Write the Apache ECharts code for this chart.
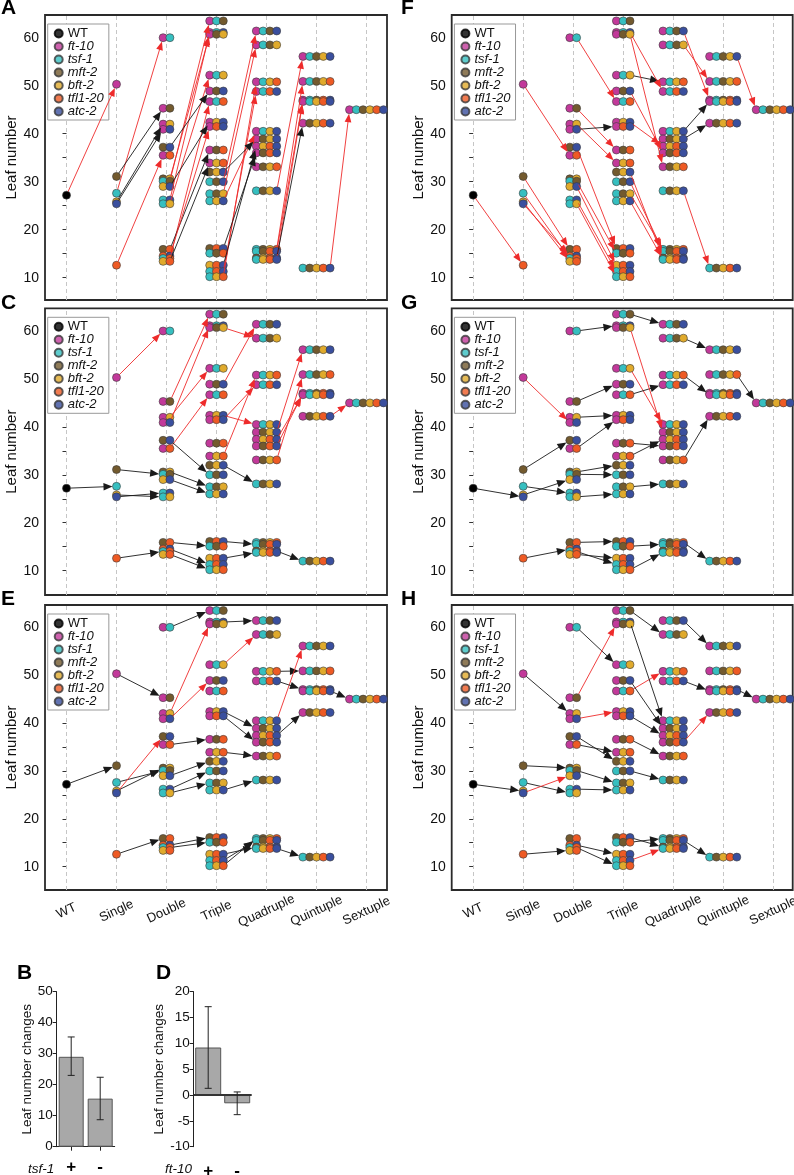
<!DOCTYPE html>
<html><head><meta charset="utf-8">
<script src="https://cdn.jsdelivr.net/npm/echarts@6/dist/echarts.min.js"></script>
<style>html,body{margin:0;padding:0;background:#fff}#c{width:794px;height:1175px}</style>
</head><body><div id="c"></div>
<script>
// ---------------- DATA ----------------
const categories = ['WT', 'Single', 'Double', 'Triple', 'Quadruple', 'Quintuple', 'Sextuple'];
const mutantNames = ['ft-10', 'tsf-1', 'mft-2', 'bft-2', 'tfl1-20', 'atc-2'];
const mutantCodes = ['F', 'T', 'M', 'B', 'L', 'A'];
// genotype codes (letters of mutant alleles present) and their leaf numbers
const genotypeCodes = [
  '',
  'F', 'T', 'M', 'B', 'L', 'A',
  'FT', 'FM', 'FB', 'FL', 'FA', 'TM', 'TB', 'TL', 'TA', 'MB', 'ML', 'MA', 'BL', 'BA', 'LA',
  'FTM', 'FTB', 'FTL', 'FTA', 'FMB', 'FML', 'FMA', 'FBL', 'FBA', 'FLA', 'TMB', 'TML', 'TMA', 'TBL', 'TBA', 'TLA', 'MBA', 'MLA', 'BLA',
  'FTMB', 'FTMA', 'FTBL', 'FTBA', 'FTLA', 'FMBL', 'FMBA', 'FMLA', 'FBLA', 'TMBL', 'TMBA', 'TMLA', 'TBLA', 'MBLA',
  'FTMBL', 'FTMBA', 'FTMLA', 'FTBLA', 'FMBLA', 'TMBLA',
  'FTMBLA'
];
const leafNumbers = [
  27.2,
  50.3, 27.6, 31.1, 25.8, 12.6, 25.4,
  60.0, 45.3, 42.0, 35.5, 40.9, 30.1, 25.4, 14.0, 26.2, 30.6, 15.9, 37.2, 13.4, 29.0, 14.5,
  63.5, 52.2, 46.7, 61.1, 60.7, 36.6, 48.9, 33.9, 42.4, 41.5, 27.5, 15.1, 30.0, 10.2, 26.0, 11.3, 32.0, 16.1, 12.6,
  58.5, 61.4, 50.8, 40.5, 48.8, 33.1, 38.9, 36.0, 37.4, 15.9, 28.1, 15.5, 13.8, 14.1,
  50.9, 56.1, 47.0, 46.7, 42.2, 12.0,
  45.0
];
// panels: which mutation each arrow adds, and which source genotypes get red arrows
const panelNames = ['A', 'C', 'E', 'F', 'G', 'H'];
const panelAddedMutant = ['F', 'T', 'M', 'L', 'A', 'B'];
const redSourcesA = ['', 'T', 'L', 'TM', 'TB', 'TL', 'TA', 'MB', 'LA', 'TMB', 'TMA', 'TBL', 'TBA', 'TLA', 'TMBL', 'TMBA', 'TMLA', 'TBLA', 'TMBLA'];
const redSourcesC = ['F', 'FM', 'FB', 'FL', 'FA', 'FMB', 'FMA', 'FBL', 'FBA', 'FLA', 'FMBL', 'FMBA', 'FMLA', 'FBLA', 'FMBLA'];
const redSourcesE = ['A', 'FB', 'FA', 'FTB', 'FTBA'];
const redSourcesF = ['', 'F', 'T', 'M', 'B', 'A', 'FT', 'FM', 'FB', 'TM', 'TB', 'TA', 'MA', 'BA', 'FTA', 'FMB', 'FMA', 'FBA', 'TMB', 'TMA', 'TBA', 'MBA', 'FTMB', 'FTMA', 'TMBA', 'FTMBA'];
const redSourcesG = ['F', 'FTB', 'FMB'];
const redSourcesH = ['A', 'FM', 'FA', 'FTL', 'TLA', 'FMLA'];
const panelRedSources = [redSourcesA, redSourcesC, redSourcesE, redSourcesF, redSourcesG, redSourcesH];
// bar charts B and D
const barCategories = ['+', '-'];
const tsfMeans = [29.0, 15.5];
const tsfErrLow = [23.0, 8.7];
const tsfErrHigh = [35.4, 22.4];
const ftMeans = [9.2, -1.6];
const ftErrLow = [1.3, -3.8];
const ftErrHigh = [17.1, 0.6];

// ---------------- STYLE / LAYOUT ----------------
const FONT = '"Liberation Sans", Arial, Helvetica, sans-serif';
const wtColor = '#000000';
const mutantColors = ['#c2399a', '#36bfc0', '#735a2e', '#e0aa2c', '#ee5a24', '#3a4f9e'];
const colLeft = [45, 451.7], colWidth = [342, 341];
const rowTop = [15, 308.3, 605], rowHeight = [285, 286.7, 285];
const yMinRow = [5.35, 4.93, 5.13], yMaxRow = [64.73, 64.73, 64.66];
const pxPerUnit = 50, xMin = -0.43, dotStep = 0.136;
const panelCol = [0, 0, 0, 1, 1, 1], panelRow = [0, 1, 2, 0, 1, 2];
const ORDER = 'FTMBLA';

const leafOf = {};
genotypeCodes.forEach((c, i) => leafOf[c] = leafNumbers[i]);
function canonical(s) { return ORDER.split('').filter(ch => s.includes(ch)).join(''); }
function dotX(code, i) { const n = code.length; return n === 0 ? 0 : n + (i - (n - 1) / 2) * dotStep; }

// dots, drawn from highest row to lowest so lower rows sit on top
const dotData = [];
genotypeCodes.map((c, i) => i).sort((a, b) => leafNumbers[b] - leafNumbers[a]).forEach(gi => {
  const code = genotypeCodes[gi], y = leafNumbers[gi];
  if (code.length === 0) { dotData.push({ value: [0, y], itemStyle: { color: wtColor } }); return; }
  for (let i = 0; i < code.length; i++) {
    dotData.push({ value: [dotX(code, i), y], itemStyle: { color: mutantColors[mutantCodes.indexOf(code[i])] } });
  }
});

function arrowsFor(p) {
  const add = panelAddedMutant[p], reds = panelRedSources[p], out = [];
  genotypeCodes.forEach(code => {
    if (code.includes(add)) return;
    const tgt = canonical(code + add);
    if (!(tgt in leafOf)) return;
    out.push([dotX(code, Math.max(code.length - 1, 0)), leafOf[code], dotX(tgt, 0), leafOf[tgt], reds.includes(code) ? 1 : 0]);
  });
  return out;
}

function renderArrow(params, api) {
  const p1 = api.coord([api.value(0), api.value(1)]);
  const p2 = api.coord([api.value(2), api.value(3)]);
  const red = api.value(4) === 1;
  const color = red ? '#ee2b2b' : '#1a1a1a';
  const dx = p2[0] - p1[0], dy = p2[1] - p1[1];
  const len = Math.sqrt(dx * dx + dy * dy) || 1;
  const ux = dx / len, uy = dy / len;
  const r = 4;
  const s = [p1[0] + ux * r, p1[1] + uy * r];
  const tip = [p2[0] - ux * r, p2[1] - uy * r];
  const hl = red ? 8.5 : 9, hw = red ? 3.4 : 3.8;
  const base = [tip[0] - ux * hl, tip[1] - uy * hl];
  return {
    type: 'group', children: [
      { type: 'line', shape: { x1: s[0], y1: s[1], x2: base[0] + ux * 1, y2: base[1] + uy * 1 }, style: { stroke: color, lineWidth: 0.9 } },
      { type: 'polygon', shape: { points: [tip, [base[0] - uy * hw, base[1] + ux * hw], [base[0] + uy * hw, base[1] - ux * hw]] }, style: { fill: color } }
    ]
  };
}

function renderErr(params, api) {
  const lo = api.coord([api.value(0), api.value(1)]);
  const hi = api.coord([api.value(0), api.value(2)]);
  const w = 3.5, st = { stroke: '#222', lineWidth: 1 };
  return {
    type: 'group', children: [
      { type: 'line', shape: { x1: lo[0], y1: lo[1], x2: hi[0], y2: hi[1] }, style: st },
      { type: 'line', shape: { x1: lo[0] - w, y1: lo[1], x2: lo[0] + w, y2: lo[1] }, style: st },
      { type: 'line', shape: { x1: hi[0] - w, y1: hi[1], x2: hi[0] + w, y2: hi[1] }, style: st }
    ]
  };
}

// ---------------- OPTION ----------------
const grids = [], xAxes = [], yAxes = [], series = [], legends = [], graphics = [];
const legendNames = ['WT'].concat(mutantNames);

for (let p = 0; p < 6; p++) {
  const c = panelCol[p], r = panelRow[p];
  grids.push({ left: colLeft[c], top: rowTop[r], width: colWidth[c], height: rowHeight[r], show: true, borderColor: '#2a2a2a', borderWidth: 1.8, backgroundColor: 'transparent', containLabel: false, outerBoundsMode: 'none' });
  const bottom = r === 2;
  xAxes.push({
    type: 'value', gridIndex: p, min: xMin, max: xMin + colWidth[c] / pxPerUnit,
    axisLine: { show: false }, axisTick: { show: false }, splitLine: { show: false },
    axisLabel: bottom ? { show: true, customValues: [0, 1, 2, 3, 4, 5, 6], formatter: v => categories[Math.round(v)], rotate: 25, align: 'center', verticalAlign: 'middle', fontSize: 13, fontFamily: FONT, color: '#111', margin: 21, hideOverlap: false } : { show: false }
  });
  yAxes.push({
    type: 'value', gridIndex: p, min: yMinRow[r], max: yMaxRow[r],
    axisLine: { show: false }, splitLine: { show: false },
    axisTick: { show: true, customValues: [10, 15, 20, 25, 30, 35, 40, 45, 50, 55, 60], length: 4, lineStyle: { color: '#333', width: 1 } },
    axisLabel: { customValues: [10, 20, 30, 40, 50, 60], fontSize: 14, fontFamily: FONT, color: '#111', margin: 6, hideOverlap: false },
    name: 'Leaf number', nameLocation: 'middle', nameGap: 24, nameTextStyle: { fontSize: 15, fontFamily: FONT, color: '#111' }
  });
  legends.push({
    left: colLeft[c] + 2.7, top: rowTop[r] + 9, orient: 'vertical', data: legendNames, selectedMode: false,
    icon: 'circle', itemWidth: 8, itemHeight: 8, itemGap: 0, padding: [3, 5, 2, 6],
    borderColor: '#999', borderWidth: 1, backgroundColor: '#fff',
    formatter: n => n === 'WT' ? '{n|' + n + '}' : '{i|' + n + '}',
    textStyle: { fontSize: 13, fontFamily: FONT, color: '#111', lineHeight: 12.9,
      rich: { n: { fontSize: 13, fontFamily: FONT, lineHeight: 12.9, color: '#111' }, i: { fontSize: 13, fontFamily: FONT, fontStyle: 'italic', lineHeight: 12.9, color: '#111' } } }
  });
  series.push({
    type: 'scatter', name: '_grid' + p, xAxisIndex: p, yAxisIndex: p, data: [], silent: true, z: 1,
    markLine: { silent: true, z: 1, symbol: ['none', 'none'], label: { show: false }, animation: false,
      lineStyle: { color: '#c6c6c6', type: [4, 3], width: 1 }, emphasis: { disabled: true },
      data: categories.map((cat, i) => ({ xAxis: i })) }
  });
  series.push({
    type: 'scatter', name: '_dots' + p, xAxisIndex: p, yAxisIndex: p, data: dotData, z: 3, silent: true,
    symbolSize: 8, itemStyle: { borderColor: '#3a3a3a', borderWidth: 0.6, opacity: 1 }, emphasis: { disabled: true }, animation: false
  });
  series.push({
    type: 'custom', name: '_arrows' + p, xAxisIndex: p, yAxisIndex: p, data: arrowsFor(p), z: 4, silent: true,
    encode: { x: [0, 2], y: [1, 3] }, renderItem: renderArrow, animation: false
  });
  graphics.push({ type: 'text', left: c === 0 ? 1 : 401, top: [ -2, 293, 589 ][r],
    style: { text: panelNames[p], font: 'bold 21px ' + FONT, fill: '#000' } });
}

// legend carrier series
legendNames.forEach((n, i) => {
  series.push({ type: 'scatter', name: n, xAxisIndex: 0, yAxisIndex: 0, data: [], itemStyle: { color: i === 0 ? wtColor : mutantColors[i - 1], borderColor: i === 0 ? '#000' : '#3a3a3a', borderWidth: 0.6 } });
});

// bar chart B (grid 6) and D (grid 7)
grids.push({ left: 56.7, top: 991.7, width: 58, height: 155, outerBoundsMode: 'none' });
grids.push({ left: 193.7, top: 991.7, width: 58, height: 155, outerBoundsMode: 'none' });
xAxes.push({ type: 'category', gridIndex: 6, data: barCategories, axisLine: { lineStyle: { color: '#222', width: 1 } },
  axisTick: { show: true, alignWithLabel: true, length: 4, lineStyle: { color: '#222' } },
  axisLabel: { fontSize: 17, fontFamily: FONT, color: '#000', margin: 12, fontWeight: 'bold' } });
xAxes.push({ type: 'category', gridIndex: 7, data: barCategories, axisLine: { show: false, onZero: false }, axisTick: { show: false },
  axisLabel: { fontSize: 17, fontFamily: FONT, color: '#000', margin: 16, fontWeight: 'bold' } });
yAxes.push({ type: 'value', gridIndex: 6, min: 0, max: 50, interval: 10, splitLine: { show: false },
  axisLine: { show: true, lineStyle: { color: '#222', width: 1 } }, axisTick: { show: true, length: 4, lineStyle: { color: '#222' } },
  axisLabel: { fontSize: 13.5, fontFamily: FONT, color: '#111', margin: 4 },
  name: 'Leaf number changes', nameLocation: 'middle', nameGap: 21, nameTextStyle: { fontSize: 13.5, fontFamily: FONT, color: '#111' } });
yAxes.push({ type: 'value', gridIndex: 7, min: -10, max: 20, interval: 5, splitLine: { show: false },
  axisLine: { show: true, lineStyle: { color: '#222', width: 1 } }, axisTick: { show: true, length: 4, lineStyle: { color: '#222' } },
  axisLabel: { fontSize: 13.5, fontFamily: FONT, color: '#111', margin: 4 },
  name: 'Leaf number changes', nameLocation: 'middle', nameGap: 24, nameTextStyle: { fontSize: 13.5, fontFamily: FONT, color: '#111' } });
series.push({ type: 'bar', xAxisIndex: 6, yAxisIndex: 6, data: tsfMeans, barWidth: 25, silent: true,
  itemStyle: { color: '#a8a8a8', borderColor: '#555', borderWidth: 1 }, animation: false });
series.push({ type: 'custom', xAxisIndex: 6, yAxisIndex: 6, data: barCategories.map((b, i) => [i, tsfErrLow[i], tsfErrHigh[i]]),
  encode: { x: 0, y: [1, 2] }, renderItem: renderErr, z: 5, silent: true, animation: false });
series.push({ type: 'bar', xAxisIndex: 7, yAxisIndex: 7, data: ftMeans, barWidth: 26, silent: true,
  itemStyle: { color: '#a8a8a8', borderColor: '#555', borderWidth: 1 }, animation: false,
  markLine: { silent: true, symbol: ['none', 'none'], label: { show: false }, lineStyle: { color: '#333', width: 2, type: 'solid' }, data: [{ yAxis: 0 }], animation: false } });
series.push({ type: 'custom', xAxisIndex: 7, yAxisIndex: 7, data: barCategories.map((b, i) => [i, ftErrLow[i], ftErrHigh[i]]),
  encode: { x: 0, y: [1, 2] }, renderItem: renderErr, z: 5, silent: true, animation: false });

graphics.push({ type: 'text', left: 17, top: 963, style: { text: 'B', font: 'bold 21px ' + FONT, fill: '#000' } });
graphics.push({ type: 'text', left: 156, top: 963, style: { text: 'D', font: 'bold 21px ' + FONT, fill: '#000' } });
graphics.push({ type: 'text', left: 28, top: 1162, style: { text: 'tsf-1', font: 'italic 13.5px ' + FONT, fill: '#111' } });
graphics.push({ type: 'text', left: 165, top: 1162, style: { text: 'ft-10', font: 'italic 13.5px ' + FONT, fill: '#111' } });

const chart = echarts.init(document.getElementById('c'), null, { renderer: 'canvas', width: 794, height: 1175 });
chart.setOption({
  animation: false, backgroundColor: '#fff',
  grid: grids, xAxis: xAxes, yAxis: yAxes, legend: legends, series: series, graphic: graphics
});
</script></body></html>
